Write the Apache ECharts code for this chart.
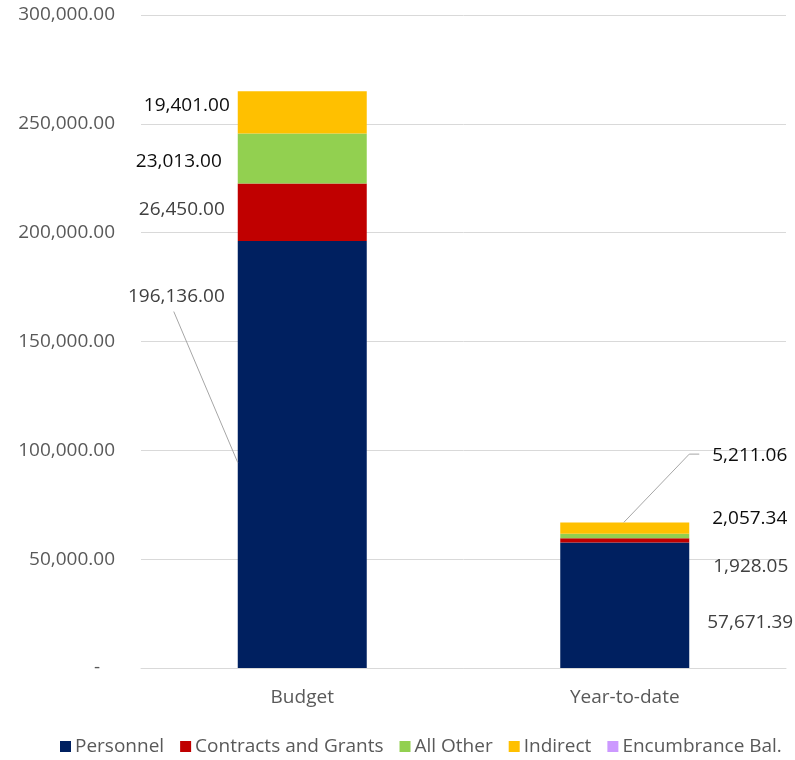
<!DOCTYPE html>
<html>
<head>
<meta charset="utf-8">
<script src="https://cdn.jsdelivr.net/npm/echarts@6/dist/echarts.min.js"></script>
<style>
  html, body { margin: 0; padding: 0; background: #ffffff; }
  #chart { width: 795px; height: 760px; }
</style>
</head>
<body>
<div id="chart"></div>
<script>
// Budget vs. year-to-date spending, stacked by expense type
const categories = ['Budget', 'Year-to-date'];
const seriesNames = ['Personnel', 'Contracts and Grants', 'All Other', 'Indirect', 'Encumbrance Bal.'];
const personnel = [196136.00, 57671.39];
const contractsGrants = [26450.00, 1928.05];
const allOther = [23013.00, 2057.34];
const indirect = [19401.00, 5211.06];
const encumbranceBal = [0, 0];
const yTickValues = [0, 50000, 100000, 150000, 200000, 250000, 300000];

const seriesValues = [personnel, contractsGrants, allOther, indirect, encumbranceBal];
const seriesColors = ['#002060', '#C00000', '#92D050', '#FFC000', '#CC99FF'];
const labelColors = ['#404040', '#404040', '#0d0d0d', '#0d0d0d', '#404040'];

// label placement per series: [Budget side, Year-to-date side]
const labelPlacement = [
  [{ gap: 13, dy: -158 }, { gap: 18, dy: 17 }],
  [{ gap: 13, dy: -3 }, { gap: 24, dy: 26 }],
  [{ gap: 16, dy: 3 }, { gap: 23, dy: -17 }],
  [{ gap: 8, dy: -7 }, { gap: 23, dy: -73 }],
  [{ gap: 13, dy: 0 }, { gap: 23, dy: 0 }]
];

const FONT = '"Open Sans", "Liberation Sans", sans-serif';
const FONT_SIZE = 19;
const BAR_FRACTION = 0.4;

function fmt(v) {
  return v.toLocaleString('en-US', { minimumFractionDigits: 2, maximumFractionDigits: 2 });
}

const chart = echarts.init(document.getElementById('chart'), null, { renderer: 'canvas' });

const series = seriesNames.map((name, si) => ({
  name: name,
  type: 'bar',
  stack: 'total',
  barWidth: (BAR_FRACTION * 100) + '%',
  data: seriesValues[si],
  itemStyle: { color: seriesColors[si] },
  label: {
    show: si < 4,
    formatter: (p) => fmt(p.value),
    color: labelColors[si],
    fontFamily: FONT,
    fontSize: FONT_SIZE
  },
  labelLayout: function (params) {
    const r = params.rect;
    const place = labelPlacement[params.seriesIndex][params.dataIndex];
    const cy = r.y + r.height / 2 + place.dy;
    if (params.dataIndex === 0) {
      return { x: r.x - place.gap, y: cy, align: 'right', verticalAlign: 'middle' };
    }
    return { x: r.x + r.width + place.gap, y: cy, align: 'left', verticalAlign: 'middle' };
  }
}));

chart.setOption({
  animation: false,
  textStyle: { fontFamily: FONT },
  grid: { left: 141, right: 9, top: 15, bottom: 92 },
  legend: {
    data: seriesNames,
    top: 732,
    left: 55,
    icon: 'rect',
    itemWidth: 11,
    itemHeight: 11,
    itemGap: 16,
    textStyle: { color: '#595959', fontSize: FONT_SIZE, fontFamily: FONT, padding: [0, 0, 0, -1] }
  },
  xAxis: {
    type: 'category',
    data: categories,
    axisTick: { show: false },
    axisLine: { lineStyle: { color: '#d9d9d9', width: 1 } },
    axisLabel: { color: '#595959', fontSize: FONT_SIZE, margin: 20, fontFamily: FONT }
  },
  yAxis: {
    type: 'value',
    min: yTickValues[0],
    max: yTickValues[yTickValues.length - 1],
    interval: yTickValues[1] - yTickValues[0],
    axisLine: { show: false },
    axisTick: { show: false },
    splitLine: { lineStyle: { color: '#d9d9d9', width: 1 } },
    axisLabel: {
      color: '#595959',
      fontSize: FONT_SIZE,
      margin: 26,
      fontFamily: FONT,
      formatter: (v) => (v === 0 ? '-   ' : fmt(v))
    }
  },
  series: series
});

// leader lines from the two displaced labels back to their segments
function px(ci, v) {
  return chart.convertToPixel({ gridIndex: 0 }, [ci, v]);
}
const band = px(1, 0)[0] - px(0, 0)[0];
const halfBar = band * BAR_FRACTION / 2;

const bCenterX = px(0, 0)[0];
const bLeft = bCenterX - halfBar;
const bSegY = px(0, personnel[0] / 2)[1];
const bLabelY = bSegY + labelPlacement[0][0].dy;
const bLabelRight = bLeft - labelPlacement[0][0].gap;

const yTotal = personnel[1] + contractsGrants[1] + allOther[1] + indirect[1] + encumbranceBal[1];
const yCenterX = px(1, 0)[0];
const yRight = yCenterX + halfBar;
const yTop = px(1, yTotal)[1];
const ySegY = px(1, yTotal - encumbranceBal[1] - indirect[1] / 2)[1];
const yLabelY = ySegY + labelPlacement[3][1].dy;

chart.setOption({
  graphic: [
    {
      type: 'polyline',
      silent: true,
      z: 100,
      shape: { points: [[bLabelRight - 51, bLabelY + 15], [bLeft, bSegY + 8]] },
      style: { stroke: '#a6a6a6', lineWidth: 1, fill: null }
    },
    {
      type: 'polyline',
      silent: true,
      z: 100,
      shape: { points: [[yCenterX - 1, yTop], [yRight, yLabelY - 1], [yRight + 10, yLabelY - 1]] },
      style: { stroke: '#a6a6a6', lineWidth: 1, fill: null }
    }
  ]
});
</script>
</body>
</html>
